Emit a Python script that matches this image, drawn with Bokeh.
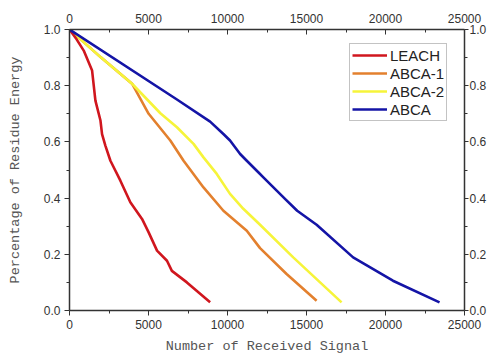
from bokeh.plotting import figure
from bokeh.models import Range1d, LinearAxis, FixedTicker, Legend, LegendItem, PrintfTickFormatter
from bokeh.embed import file_html
from bokeh.resources import INLINE

# ---- data ----
leach_x = [0, 450, 900, 1430, 1640, 1960, 2060, 2270, 2590, 3220, 3850, 4590, 5010, 5540, 6170, 6480, 7430, 8900]
leach_y = [1.0, 0.965, 0.925, 0.854, 0.747, 0.676, 0.628, 0.587, 0.533, 0.462, 0.385, 0.326, 0.278, 0.213, 0.177, 0.141, 0.100, 0.029]

abca1_x = [0, 2000, 3960, 5010, 6380, 7220, 8480, 9740, 11220, 12060, 13740, 15640]
abca1_y = [1.0, 0.90, 0.807, 0.700, 0.605, 0.533, 0.438, 0.355, 0.284, 0.222, 0.130, 0.035]

abca2_x = [0, 2000, 3960, 5750, 6800, 7850, 8480, 9320, 10160, 11000, 12060, 14160, 17220]
abca2_y = [1.0, 0.90, 0.807, 0.702, 0.652, 0.593, 0.545, 0.486, 0.415, 0.362, 0.305, 0.189, 0.029]

abca_x = [0, 6800, 8900, 9740, 10160, 10800, 11220, 11950, 12270, 13640, 14410, 15640, 17950, 20470, 23420]
abca_y = [1.0, 0.751, 0.672, 0.628, 0.605, 0.557, 0.533, 0.492, 0.474, 0.397, 0.355, 0.305, 0.189, 0.106, 0.029]

series_names = ["LEACH", "ABCA-1", "ABCA-2", "ABCA"]
series_colors = ["#d0161e", "#e3802e", "#f6f43a", "#1414a6"]

x_ticks = [0, 5000, 10000, 15000, 20000, 25000]
x_minor = [2500, 7500, 12500, 17500, 22500]
y_ticks = [0.0, 0.2, 0.4, 0.6, 0.8, 1.0]
y_minor = [0.1, 0.3, 0.5, 0.7, 0.9]

p = figure(width=489, height=359, output_backend="svg", toolbar_location=None,
           x_range=Range1d(0, 25000), y_range=Range1d(0, 1.0),
           min_border_left=69, min_border_right=24, min_border_top=29, min_border_bottom=49)
p.background_fill_color = "white"
p.border_fill_color = "white"
p.outline_line_color = None
p.grid.visible = False

label_font = "Liberation Sans"
title_font = "Liberation Mono"


def style_axis(ax, ticks, minor, inward=False):
    ax.ticker = FixedTicker(ticks=ticks, minor_ticks=minor)
    ax.axis_line_color = "#333333"
    ax.axis_line_width = 1.5
    ax.major_tick_line_color = "#333333"
    ax.minor_tick_line_color = "#333333"
    if inward:
        ax.major_tick_in = 5
        ax.major_tick_out = 0
        ax.minor_tick_in = 3
        ax.minor_tick_out = 0
    else:
        ax.major_tick_in = 0
        ax.major_tick_out = 5
        ax.minor_tick_in = 0
        ax.minor_tick_out = 3
    ax.major_label_text_font = label_font
    ax.major_label_text_font_size = "12px"
    ax.major_label_text_color = "#333333"
    ax.major_label_standoff = 4


xa = p.xaxis[0]
ya = p.yaxis[0]
style_axis(xa, x_ticks, x_minor)
style_axis(ya, y_ticks, y_minor)
ya.formatter = PrintfTickFormatter(format="%.1f")
xa.axis_label = "Number of Received Signal"
ya.axis_label = "Percentage of Residue Energy"
for ax in (xa, ya):
    ax.axis_label_text_font = title_font
    ax.axis_label_text_font_style = "normal"
    ax.axis_label_text_font_size = "13.5px"
    ax.axis_label_text_color = "#555555"
xa.axis_label_standoff = 7
ya.axis_label_standoff = 18

top = LinearAxis()
style_axis(top, x_ticks, x_minor, inward=True)
top.major_label_standoff = 7
p.add_layout(top, "above")

right = LinearAxis()
style_axis(right, y_ticks, y_minor)
right.major_tick_out = 4
right.major_label_standoff = 1
right.formatter = PrintfTickFormatter(format="%.1f")
p.add_layout(right, "right")

xs = [leach_x, abca1_x, abca2_x, abca_x]
ys = [leach_y, abca1_y, abca2_y, abca_y]
rmap = {}
for i in [1, 2, 0, 3]:
    rmap[i] = p.line(xs[i], ys[i], line_color=series_colors[i], line_width=2.6,
                     line_join="round")

items = [LegendItem(label=series_names[i], renderers=[rmap[i]]) for i in range(4)]
legend = Legend(items=items, location=(280, 189))
legend.label_text_font = label_font
legend.label_text_font_size = "15px"
legend.label_text_color = "#222222"
legend.glyph_width = 35
legend.glyph_height = 18
legend.label_height = 18
legend.label_standoff = 3
legend.spacing = 0
legend.padding = 2
legend.margin = 0
legend.border_line_color = "#888888"
legend.border_line_width = 1
legend.background_fill_alpha = 1
p.add_layout(legend, "center")

open("out.html", "w").write(file_html(p, INLINE))
